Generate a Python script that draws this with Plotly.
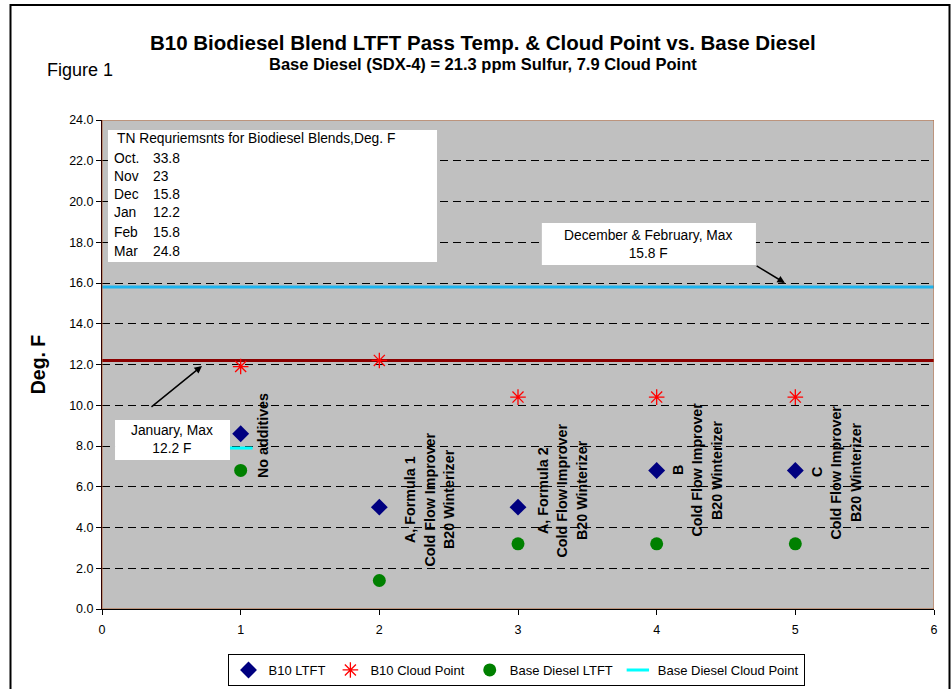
import plotly.graph_objects as go

# --- data -------------------------------------------------------------
blend_ids = [1, 2, 3, 4, 5]
b10_ltft = [8.6, 5.0, 5.0, 6.8, 6.8]
b10_cloud = [11.9, 12.2, 10.4, 10.4, 10.4]
base_ltft = [6.8, 1.4, 3.2, 3.2, 3.2]
base_cloud_x = [1]
base_cloud = [7.9]

jan_max = 12.2
dec_feb_max = 15.8

months = ["Oct.", "Nov", "Dec", "Jan", "Feb", "Mar"]
month_limits = ["33.8", "23", "15.8", "12.2", "15.8", "24.8"]

x_ticks = [0, 1, 2, 3, 4, 5, 6]
y_ticks = [0, 2, 4, 6, 8, 10, 12, 14, 16, 18, 20, 22, 24]

additive_labels = [
    ["No additives"],
    ["A, Formula 1", "Cold Flow Improver", "B20 Winterizer"],
    ["A, Formula 2", "Cold Flow Improver", "B20 Winterizer"],
    ["B", "Cold Flow Improver", "B20 Winterizer"],
    ["C", "Cold Flow Improver", "B20 Winterizer"],
]

FONT = "Liberation Sans, Arial, sans-serif"
W, H = 952, 689
L, R, T, B = 102, 18, 120, 80
PW, PH = W - L - R, H - T - B


def px_x(p):
    return (p - L) / PW


def px_y(p):
    return (H - B - p) / PH


fig = go.Figure()

# reference limit lines
fig.add_trace(go.Scatter(x=[x_ticks[0], x_ticks[-1]], y=[dec_feb_max] * 2, mode="lines",
                         line=dict(color="#1EB4EE", width=3), showlegend=False, hoverinfo="skip"))
fig.add_trace(go.Scatter(x=[x_ticks[0], x_ticks[-1]], y=[jan_max] * 2, mode="lines",
                         line=dict(color="#8B0000", width=3), showlegend=False, hoverinfo="skip"))

fig.add_trace(go.Scatter(x=blend_ids, y=b10_ltft, mode="markers", name="B10 LTFT",
                         marker=dict(symbol="diamond", size=13, color="#000080")))
fig.add_trace(go.Scatter(x=blend_ids, y=b10_cloud, mode="markers", name="B10 Cloud Point",
                         marker=dict(symbol="asterisk-open", size=13, color="#FF0000",
                                     line=dict(color="#FF0000", width=1.3))))
fig.add_trace(go.Scatter(x=blend_ids, y=base_ltft, mode="markers", name="Base Diesel LTFT",
                         marker=dict(symbol="circle", size=13, color="#008000")))
fig.add_trace(go.Scatter(x=base_cloud_x, y=base_cloud, mode="markers", name="Base Diesel Cloud Point",
                         marker=dict(symbol="line-ew-open", size=17, color="#00FFFF",
                                     line=dict(color="#00FFFF", width=3))))

shapes = []
annotations = []

# plot-area frame and outer chart border
shapes.append(dict(type="rect", xref="x", yref="y", x0=0, x1=6, y0=0, y1=24,
                   line=dict(color="#B8683A", width=1), layer="above"))
shapes.append(dict(type="rect", xref="paper", yref="paper", x0=px_x(10.5), x1=px_x(949.5),
                   y0=px_y(710), y1=px_y(5), line=dict(color="black", width=2)))

TXT = dict(family=FONT, size=13.8, color="black")

# requirements table box
shapes.append(dict(type="rect", xref="x", yref="y", x0=0.043, x1=2.416, y0=17.03, y1=23.51,
                   fillcolor="white", line=dict(width=0), layer="above"))
annotations.append(dict(x=0.094, y=23.07, xref="x", yref="y", xanchor="left", yanchor="middle",
                        text="TN Requriemsnts for Biodiesel Blends,Deg. F", showarrow=False,
                        font=TXT))
row_y = [22.13, 21.25, 20.32, 19.44, 18.5, 17.57]
for m, v, yy in zip(months, month_limits, row_y):
    annotations.append(dict(x=0.072, y=yy, xref="x", yref="y", xanchor="left", yanchor="middle",
                            text=m, showarrow=False, font=TXT))
    annotations.append(dict(x=0.353, y=yy, xref="x", yref="y", xanchor="left", yanchor="middle",
                            text=v, showarrow=False, font=TXT))

# December & February callout
shapes.append(dict(type="rect", xref="x", yref="y", x0=3.172, x1=4.716, y0=16.88, y1=18.95,
                   fillcolor="white", line=dict(width=0), layer="above"))
annotations.append(dict(x=3.944, y=17.91, xref="x", yref="y", showarrow=False,
                        text=f"December & February, Max<br>{dec_feb_max} F", font=TXT))
annotations.append(dict(x=4.925, y=16.0, ax=4.71, ay=16.88, xref="x", yref="y",
                        axref="x", ayref="y", text="", showarrow=True, arrowhead=2,
                        arrowsize=1, arrowwidth=1.5, arrowcolor="black"))

# January callout
shapes.append(dict(type="rect", xref="x", yref="y", x0=0.094, x1=0.923, y0=7.31, y1=9.28,
                   fillcolor="white", line=dict(width=0), layer="above"))
annotations.append(dict(x=0.508, y=8.3, xref="x", yref="y", showarrow=False,
                        text=f"January, Max<br>{jan_max} F", font=TXT))
annotations.append(dict(x=0.721, y=11.93, ax=0.346, ay=9.86, xref="x", yref="y",
                        axref="x", ayref="y", text="", showarrow=True, arrowhead=2,
                        arrowsize=1, arrowwidth=1.5, arrowcolor="black"))

# rotated additive labels beside each blend
label_x0 = [1.161, 2.221, 3.18, 4.154, 5.156]
label_y = [8.54, 5.4, 5.84, 6.82, 6.72]
line_step = 0.1406
for lines, x0, yc in zip(additive_labels, label_x0, label_y):
    for i, txt in enumerate(lines):
        annotations.append(dict(x=x0 + i * line_step, y=yc, xref="x", yref="y",
                                text=f"<b>{txt}</b>", textangle=-90, showarrow=False,
                                font=dict(family=FONT, size=14.3, color="black")))

# titles
annotations.append(dict(x=px_x(483), y=px_y(42), xref="paper", yref="paper",
                        xanchor="center", yanchor="middle", showarrow=False,
                        text="<b>B10 Biodiesel Blend LTFT Pass Temp. & Cloud Point vs. Base Diesel</b>",
                        font=dict(family=FONT, size=20.5, color="black")))
annotations.append(dict(x=px_x(483), y=px_y(64), xref="paper", yref="paper",
                        xanchor="center", yanchor="middle", showarrow=False,
                        text="<b>Base Diesel (SDX-4) = 21.3 ppm Sulfur, 7.9 Cloud Point</b>",
                        font=dict(family=FONT, size=16.5, color="black")))
annotations.append(dict(x=px_x(80), y=px_y(70), xref="paper", yref="paper",
                        xanchor="center", yanchor="middle", showarrow=False, text="Figure 1",
                        font=dict(family=FONT, size=18, color="black")))

fig.update_layout(
    width=W, height=H,
    margin=dict(l=L, r=R, t=T, b=B, autoexpand=False),
    paper_bgcolor="white", plot_bgcolor="#C0C0C0",
    font=dict(family=FONT, size=12, color="black"),
    showlegend=True,
    legend=dict(orientation="h", xref="container", yref="container",
                x=516 / W, y=(H - 670) / H, xanchor="center", yanchor="middle",
                bordercolor="black", borderwidth=1, bgcolor="white",
                font=dict(family=FONT, size=13), itemwidth=30, tracegroupgap=0),
    shapes=shapes, annotations=annotations,
)
fig.update_xaxes(range=[0, 6], tickvals=x_ticks, ticks="outside", ticklen=5, tickcolor="black",
                 showline=True, linecolor="black", linewidth=1, showgrid=False, zeroline=False,
                 ticklabelstandoff=4, tickfont=dict(family=FONT, size=12.5))
fig.update_yaxes(range=[0, 24], tickvals=y_ticks, ticktext=[f"{v:.1f}" for v in y_ticks],
                 ticks="outside", ticklen=5, tickcolor="black",
                 showline=True, linecolor="#300000", linewidth=1,
                 showgrid=True, gridcolor="black", gridwidth=1, griddash="8px,5px", zeroline=False,
                 title=dict(text="<b>Deg. F</b>", font=dict(family=FONT, size=19.5), standoff=18),
                 tickfont=dict(family=FONT, size=12.5))

fig.write_html("out.html")
